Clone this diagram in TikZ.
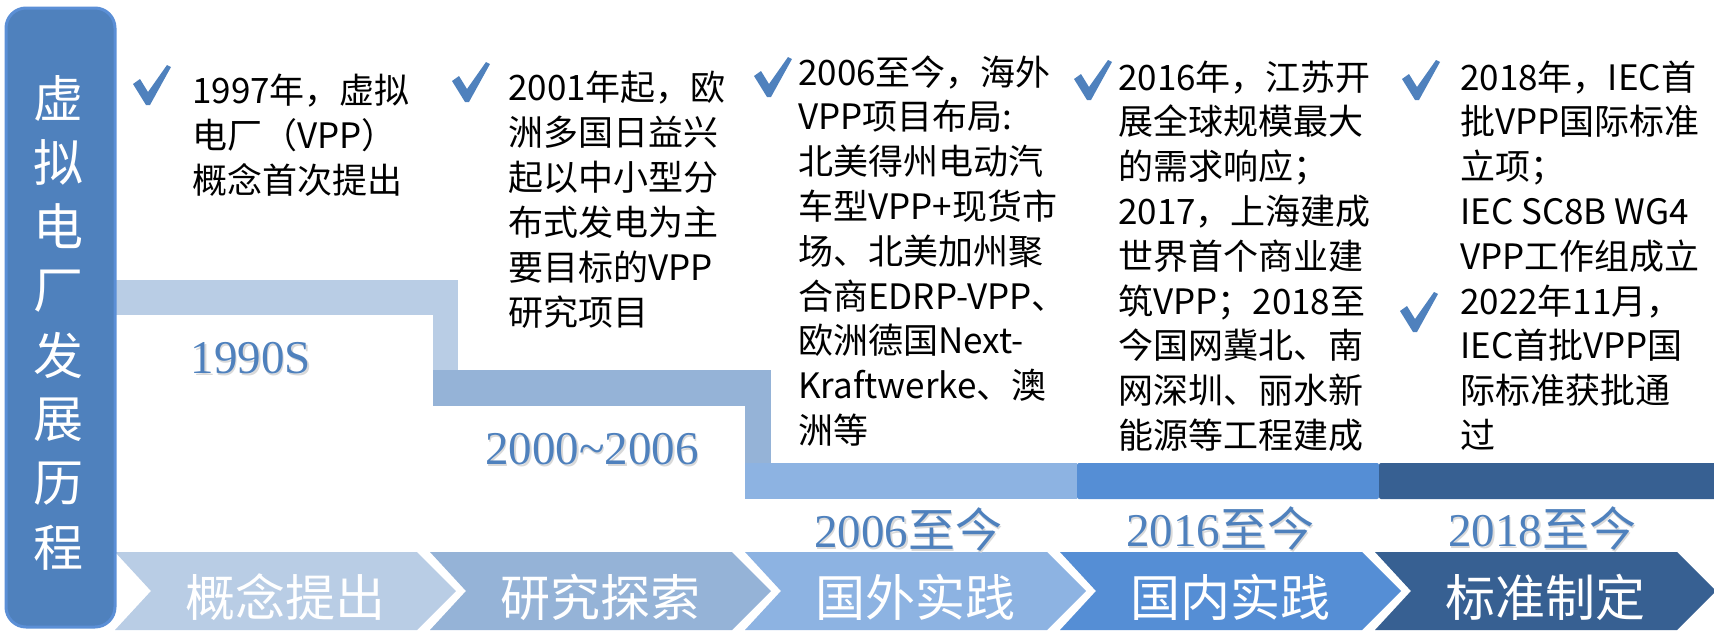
\documentclass[tikz,border=0pt]{standalone}
\usepackage{fontspec}
\setmainfont{Liberation Serif}
\newfontfamily\cjk{Noto Sans CJK SC}
\definecolor{cA}{HTML}{B9CDE5}
\definecolor{cB}{HTML}{95B3D7}
\definecolor{cC}{HTML}{8DB3E2}
\definecolor{cD}{HTML}{558ED5}
\definecolor{cE}{HTML}{376092}
\definecolor{cBlue}{HTML}{4F81BD}
\definecolor{cEdge}{HTML}{5B8FD6}
\tikzset{
  vtxt/.style={text=white,inner sep=0,font=\cjk\fontsize{50}{50}\selectfont},
  chtxt/.style={text=white,inner sep=0,font=\cjk\fontsize{50}{50}\selectfont},
  datetxt/.style={text=cBlue,inner sep=0,font=\fontsize{47}{47}\selectfont},
  dateshadow/.style={text=black!15,inner sep=0,font=\fontsize{47}{47}\selectfont},
  body/.style={anchor=base west,inner sep=0,font=\cjk\fontsize{35}{35}\selectfont},
  chk/.pic={\fill[cBlue] (0,19) -- (7,14) -- (15,27) -- (34,0) -- (38,2) -- (17,40) -- (13,40) -- cycle;}
}
\newcommand\datelabel[4]{%
  \node[dateshadow] (#1s) at ({#2+1.5},{#3+2}) {#4};
  \node[datetxt] (#1) at ({#2},{#3}) {#4};
}
\begin{document}
\begin{tikzpicture}[x=1pt,y=-1pt]
\useasboundingbox (0,0) rectangle (1714,630);
% step bars
\fill[cA] (115,280) rectangle (458,315);
\fill[cA] (433,280) rectangle (458,370);
\fill[cB] (433,370) rectangle (771,406);
\fill[cB] (745,370) rectangle (771,463);
\fill[cC] (745,463) rectangle (1077,499);
\fill[cD,rounded corners=2] (1077,463) rectangle (1379,499);
\fill[cE,rounded corners=2] (1379,463) rectangle (1716,499);
% chevrons
\foreach \c/\t [count=\i from 0] in {cA/概念提出,cB/研究探索,cC/国外实践,cD/国内实践,cE/标准制定}{
  \pgfmathsetmacro\xx{115+315*\i}
  \fill[\c] (\xx,552) -- ++(302,0) -- ++(39,39) -- ++(-39,39) -- ++(-302,0) -- ++(36,-39) -- cycle;
  \node[chtxt] (ch\i) at ({\xx+170},597) {\t};
}
% date labels
\datelabel{d1}{251}{358}{1990S}
\datelabel{d2}{592}{449}{2000\textasciitilde 2006}
\datelabel{d3}{908}{530}{2006{\cjk 至今}}
\datelabel{d4}{1220}{529}{2016{\cjk 至今}}
\datelabel{d5}{1542}{529}{2018{\cjk 至今}}
% check marks
\pic at (133,65) {chk};
\pic at (452,62) {chk};
\pic at (754,57) {chk};
\pic at (1074,60) {chk};
\pic at (1402,60) {chk};
\pic at (1400,292) {chk};
% body texts
\foreach \l [count=\i] in {1997年，虚拟,电厂（VPP）,概念首次提出}
  \node[body] (ta\i) at ({192},{103+45*(\i-1)}) {\l};
\foreach \l [count=\i] in {2001年起，欧,洲多国日益兴,起以中小型分,布式发电为主,要目标的VPP,研究项目}
  \node[body] (tb\i) at ({508},{100+45*(\i-1)}) {\l};
\foreach \l [count=\i] in {2006至今，海外,VPP项目布局:,北美得州电动汽,车型VPP+现货市,场、北美加州聚,合商EDRP-VPP、,欧洲德国Next-,Kraftwerke、澳,洲等}
  \node[body] (tc\i) at ({798},{85+44.8*(\i-1)}) {\l};
\foreach \l [count=\i] in {2016年，江苏开,展全球规模最大,的需求响应；,2017，上海建成,世界首个商业建,筑VPP；2018至,今国网冀北、南,网深圳、丽水新,能源等工程建成}
  \node[body] (td\i) at ({1118},{90+44.8*(\i-1)}) {\l};
\foreach \l [count=\i] in {2018年，IEC首,批VPP国际标准,立项；,IEC SC8B WG4,VPP工作组成立,2022年11月，,IEC首批VPP国,际标准获批通,过}
  \node[body] (te\i) at ({1460},{90+44.8*(\i-1)}) {\l};
% left title box
\draw[fill=cBlue,draw=cEdge,line width=3,rounded corners=20] (6,8) rectangle (115,627);
\foreach \t [count=\i] in {虚,拟,电,厂,发,展,历,程}
  \node[vtxt] (v\i) at ({59},{98+64.3*(\i-1)}) {\t};
\end{tikzpicture}
\end{document}
